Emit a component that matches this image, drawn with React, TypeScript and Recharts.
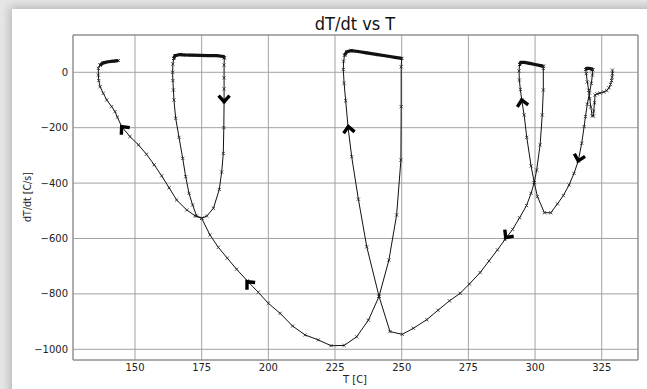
import React from 'react';
import { ScatterChart, Scatter, XAxis, YAxis, CartesianGrid, ReferenceArea } from 'recharts';

type P = [number, number];

const T_TICKS = [150, 175, 200, 225, 250, 275, 300, 325];
const R_TICKS = [-1000, -800, -600, -400, -200, 0];
const T_DOMAIN: [number, number] = [126.75, 338.6];
const R_DOMAIN: [number, number] = [-1038.6, 134.6];

// trajectory pieces in time order: [T (C), dT/dt (C/s)]
const coolA: P[] = [
  [329.0, 8], [329.0, -5], [328.9, -18], [328.7, -30], [328.3, -44], [327.7, -56], [326.9, -66],
  [325.8, -71], [324.4, -75], [323.2, -78], [322.5, -82], [322.3, -110], [322.0, -140], [321.9, -158],
  [321.4, -157], [320.9, -125], [320.5, -95], [320.1, -65], [319.6, -35], [319.2, -5], [319.0, 10],
];
const heatA: P[] = [[319.0, 10], [319.4, 14], [320.3, 14], [321.3, 12], [321.6, 9]];
const coolB: P[] = [
  [321.6, 9], [321.5, -10], [321.1, -40], [320.4, -75], [319.6, -115], [318.9, -160], [318.4, -196],
  [317.5, -256], [316.2, -320], [314.6, -365], [312.75, -407], [310.6, -445], [308.4, -475],
  [305.9, -507], [303.5, -507], [300.9, -449], [299.7, -398], [298.5, -338], [296.9, -235],
  [295.9, -154], [295.0, -100], [294.5, -62], [294.1, -28], [294.0, 5], [294.2, 28],
];
const heatB: P[] = [[294.2, 28], [294.7, 36], [296, 36], [298, 32], [300, 28], [302, 24], [303.1, 22]];
const coolC: P[] = [
  [303.1, 22], [303.1, 14], [303.1, -64], [302.7, -154], [301.9, -262], [300.6, -353], [299.7, -398],
  [298.5, -437], [296.8, -481], [294.2, -525], [291.6, -567], [288.7, -604], [285.9, -641],
  [282.75, -681], [279.4, -723], [275.4, -764], [271.9, -798], [267.9, -825], [263.6, -859],
  [259.4, -893], [254.4, -924], [250.2, -946], [245.6, -936], [241.5, -809], [236.9, -630],
  [233.75, -458], [231.25, -305], [229.9, -200], [229.0, -103], [228.4, -40], [228.1, 10],
  [228.2, 40], [228.6, 62],
];
const heatC: P[] = [
  [228.6, 62], [229.4, 74], [231, 78], [233, 76], [236.9, 70], [241, 64], [245, 58], [247.5, 54], [250, 50],
];
const coolD: P[] = [
  [250, 50], [249.8, 20], [249.8, -124], [249.7, -317], [248.1, -515], [245.2, -678], [241.5, -809],
  [237.5, -895], [233.1, -955], [228.4, -986], [223.5, -987], [218.7, -966], [213.75, -948],
  [209.1, -916], [204.4, -870], [200, -834], [196.2, -794], [192.1, -753], [188.1, -711],
  [184.6, -671], [181.25, -632], [178.1, -587], [175, -527], [173.1, -519], [171.6, -479],
  [170.25, -437], [169, -377], [167.9, -311], [166.5, -235], [165.25, -166], [164.6, -100],
  [164.4, -64], [164.2, -30], [164.1, 0], [164.2, 30], [164.5, 50],
];
const heatD: P[] = [
  [164.5, 50], [165, 60], [166.9, 64], [168.1, 63], [171, 62], [174.4, 61], [177.5, 60], [180.6, 60],
  [183.1, 57], [183.5, 52],
];
const coolE: P[] = [
  [183.5, 52], [183.4, 26], [183.4, -20], [183.4, -60], [183.4, -106], [183.3, -200], [183.1, -293],
  [182.5, -360], [181.6, -423], [179.4, -491], [176.9, -519], [175, -527], [172.5, -518],
  [169.4, -497], [165.6, -461], [162.8, -417], [160, -374], [157.2, -334], [154.3, -296],
  [151.3, -262], [148.1, -232], [145, -196], [143.4, -162], [142.5, -142], [141.25, -124],
  [139.4, -100], [138.1, -76], [136.9, -52], [136.4, -30], [136.25, -10], [136.25, 14], [136.9, 26],
];
const heatE: P[] = [[136.9, 26], [138.1, 34], [140, 38], [141.9, 40], [143.75, 42]];

// direction arrows: [T, dT/dt, heading in screen degrees]
const arrows: [number, number, number][] = [
  [145, -196, -130], [183.4, -106, 90], [192, -756, -132], [230, -196, -97],
  [295, -100, -100], [289, -597, 126], [316.2, -320, 104],
];

const toPts = (a: P[]) => a.map(([T, r]) => ({ T, r }));
const coolSegs = [coolA, coolB, coolC, coolD, coolE];
const heatSegs = [heatA, heatB, heatC, heatD, heatE];
const arrowPts = arrows.map(([T, r, ang]) => ({ T, r, ang }));

const XMark = (props: any) => {
  const { cx, cy } = props;
  if (cx == null || cy == null) return <g />;
  const s = 1.6;
  return (
    <path d={`M${cx - s},${cy - s}L${cx + s},${cy + s}M${cx - s},${cy + s}L${cx + s},${cy - s}`}
      stroke="#222" strokeWidth={0.8} fill="none" />
  );
};

const SmallMark = (props: any) => {
  const { cx, cy } = props;
  if (cx == null || cy == null) return <g />;
  const s = 1.3;
  return (
    <path d={`M${cx - s},${cy - s}L${cx + s},${cy + s}M${cx - s},${cy + s}L${cx + s},${cy - s}`}
      stroke="#111" strokeWidth={1} fill="none" />
  );
};

const ArrowMark = (props: any) => {
  const { cx, cy } = props;
  const ang = props.payload?.ang ?? props.ang ?? 0;
  if (cx == null || cy == null) return <g />;
  return (
    <path d="M-6,-5.5L0,0L-6,5.5" transform={`translate(${cx},${cy}) rotate(${ang})`}
      stroke="#000" strokeWidth={3.4} fill="none" strokeLinejoin="miter" strokeLinecap="butt" />
  );
};

const fmt = (v: number) => (v < 0 ? '\u2212' + Math.abs(v) : String(v));

export default function App() {
  const tick = { fontFamily: 'DejaVu Sans', fontSize: 10, fill: '#222' };
  return (
    <div style={{ position: 'absolute', left: 0, top: 0, width: 647, height: 389, background: '#e6e6e6', overflow: 'hidden' }}>
      <div style={{ position: 'absolute', left: 12, top: 9, width: 660, height: 400, background: '#fff', boxShadow: '0 0 9px 2px rgba(0,0,0,0.22)' }} />
      <div style={{ position: 'absolute', left: 0, top: 0 }}>
        <ScatterChart width={647} height={389} margin={{ top: 35, right: 9, bottom: 4, left: 13 }}>
          <CartesianGrid stroke="#a2a2a2" strokeWidth={1} />
          <XAxis type="number" dataKey="T" domain={T_DOMAIN} ticks={T_TICKS} allowDataOverflow
            height={25} tickLine={false} axisLine={false} tickSize={0} tickMargin={4} tick={tick} />
          <YAxis type="number" dataKey="r" domain={R_DOMAIN} ticks={R_TICKS} allowDataOverflow
            width={60} tickLine={false} axisLine={false} tickSize={0} tickMargin={5} tick={tick}
            tickFormatter={fmt} />
          <ReferenceArea x1={T_DOMAIN[0]} x2={T_DOMAIN[1]} y1={R_DOMAIN[0]} y2={R_DOMAIN[1]}
            fill="none" stroke="#888" strokeWidth={1} fillOpacity={0} />
          {heatSegs.map((s, i) => (
            <Scatter key={'h' + i} data={toPts(s)} line={{ stroke: '#111', strokeWidth: 3.2 }}
              shape={SmallMark} isAnimationActive={false} />
          ))}
          {coolSegs.map((s, i) => (
            <Scatter key={'c' + i} data={toPts(s)} line={{ stroke: '#111', strokeWidth: 1 }}
              shape={XMark} isAnimationActive={false} />
          ))}
          <Scatter data={arrowPts} shape={ArrowMark} isAnimationActive={false} />
        </ScatterChart>
      </div>
      <div style={{ position: 'absolute', left: 255, width: 200, top: 13, textAlign: 'center', fontFamily: 'DejaVu Sans Condensed, DejaVu Sans', fontSize: 18, color: '#111', lineHeight: '22px' }}>dT/dt vs T</div>
      <div style={{ position: 'absolute', left: 305, width: 100, top: 373, textAlign: 'center', fontFamily: 'DejaVu Sans', fontSize: 10, color: '#222', lineHeight: '14px' }}>T [C]</div>
      <div style={{ position: 'absolute', left: 27 - 50, width: 100, top: 197 - 7, textAlign: 'center', fontFamily: 'DejaVu Sans Condensed, DejaVu Sans', fontSize: 10.5, color: '#222', lineHeight: '14px', transform: 'rotate(-90deg)' }}>dT/dt [C/s]</div>
    </div>
  );
}
